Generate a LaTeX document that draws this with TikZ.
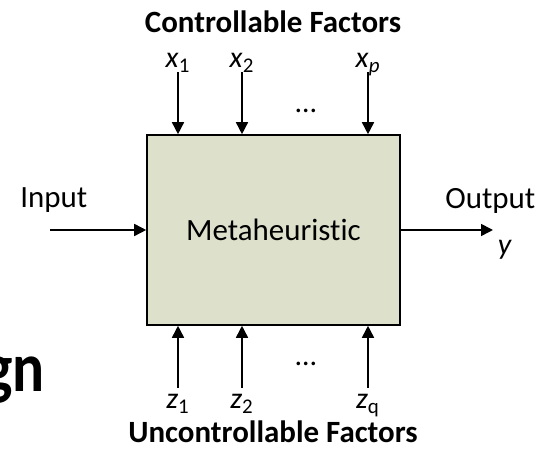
\documentclass[tikz,border=0pt]{standalone}
\usepackage{fontspec}
\setmainfont[Ligatures=NoCommon]{Carlito}
\usepackage{xcolor}
\usepackage{tikz}
\usetikzlibrary{positioning,arrows.meta}
\definecolor{boxfill}{RGB}{221,224,203}
\tikzset{
  factor/.style={-{Triangle[length=0.24cm,width=0.24cm]}, line width=0.9pt},
  lbl/.style={font=\fontsize{17}{19}\selectfont, inner sep=0pt, anchor=base},
  head/.style={font=\fontsize{17.6}{20}\selectfont\bfseries, inner sep=0pt, anchor=base},
  plain/.style={font=\fontsize{17.6}{20}\selectfont, inner sep=0pt}
}

\begin{document}
\begin{tikzpicture}
  \useasboundingbox (0,0) rectangle (10.76,8.98);
  % leftover of the slide title
  \node[anchor=base east, inner sep=0pt, xscale=0.85, font=\fontsize{40}{46}\selectfont\bfseries]
        (title) at (0.9,1.14) {gn};
  % the black box
  \node[draw, line width=0.9pt, fill=boxfill, minimum width=5.06cm, minimum height=3.80cm,
        plain] (meta) at (5.47,4.38) {Metaheuristic};
  % controllable factors
  \node[head] (ctrl) at (5.46,8.32) {Controllable Factors};
  \node[lbl] (x1) at (3.56,7.62) {\textit{x}\textsubscript{1}};
  \node[lbl] (x2) at (4.84,7.62) {\textit{x}\textsubscript{2}};
  \node[lbl] (xp) at (7.36,7.62) {\textit{x}\textsubscript{\textit{p}}};
  \node[lbl] (tdots) at (6.12,6.72) {\dots};
  \draw[factor] ([yshift=-0.08cm]x1.base) -- (x1.base |- meta.north);
  \draw[factor] ([yshift=-0.08cm]x2.base) -- (x2.base |- meta.north);
  \draw[factor] ([yshift=-0.08cm]xp.base) -- (xp.base |- meta.north);
  % uncontrollable factors
  \node[lbl] (z1) at (3.56,0.80) {\textit{z}\textsubscript{1}};
  \node[lbl] (z2) at (4.84,0.80) {\textit{z}\textsubscript{2}};
  \node[lbl] (zq) at (7.36,0.80) {\textit{z}\textsubscript{q}};
  \node[lbl] (bdots) at (6.12,1.66) {\dots};
  \draw[factor] ([yshift=0.42cm]z1.base) -- (z1.base |- meta.south);
  \draw[factor] ([yshift=0.42cm]z2.base) -- (z2.base |- meta.south);
  \draw[factor] ([yshift=0.42cm]zq.base) -- (zq.base |- meta.south);
  \node[head] (unctrl) at (5.46,0.12) {Uncontrollable Factors};
  % input and output
  \node[plain, anchor=base west] (input) at (0.40,4.82) {Input};
  \coordinate (in) at (1.0,4.38);
  \draw[factor] (in) -- (meta.west);
  \node[plain, anchor=base west] (output) at (8.90,4.80) {Output};
  \coordinate (out) at (9.86,4.38);
  \draw[factor] (meta.east) -- (out);
  \node[lbl] (y) at (10.1,3.88) {\textit{y}};
\end{tikzpicture}
\end{document}
